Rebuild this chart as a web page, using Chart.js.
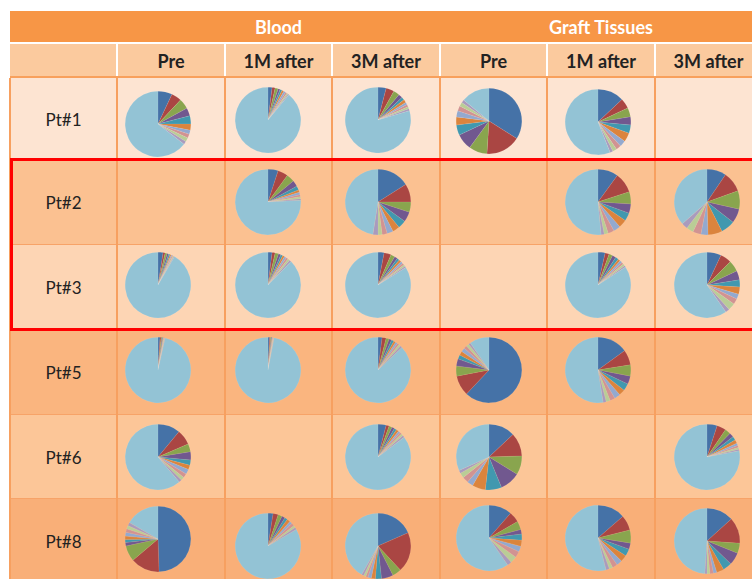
<!DOCTYPE html>
<html>
<head>
<meta charset="utf-8">
<script src="https://cdn.jsdelivr.net/npm/chart.js@4/dist/chart.umd.min.js"></script>
<style>
body{margin:0;background:#fff;width:752px;height:579px;overflow:hidden;position:relative;font-family:Lato,"Open Sans",sans-serif;}
.box{position:absolute;box-sizing:border-box;}
.txt{display:flex;align-items:center;justify-content:center;}
</style>
</head>
<body>
<div id="wrap"></div>
<script>
// table labels
const groups = ["Blood", "Graft Tissues"];
const timepoints = ["Pre", "1M after", "3M after", "Pre", "1M after", "3M after"];
const patients = ["Pt#1", "Pt#2", "Pt#3", "Pt#5", "Pt#6", "Pt#8"];
const clones = ["Clone 1","Clone 2","Clone 3","Clone 4","Clone 5","Clone 6","Clone 7","Clone 8","Clone 9","Clone 10","Others"];

// clone shares (%) per time point, null = no sample
const pt1 = [
[7,5,5,4,4,3,2,2,2,1.5,64.5],
[2,1.5,1.5,1,1,1,1,0.8,0.7,0.5,89],
[4,4,3,2,1.5,1.5,1.2,1.2,1,1,79.6],
[34,17,9,8,5,4,3,2.5,2,1.5,14],
[13,5,4.5,4,4,4.5,3,2.5,2,1.5,56],
null
];
const pt2 = [
null,
[5,5,4,3,2,1.2,1.2,1,1,0.8,75.8],
[16,9,5,5,4,3.5,3,2.5,2,2.5,47.5],
null,
[10,10,6,4.5,4,4,3.5,3,2,1.5,51.5],
[9.5,10,9,7,7,7,3.5,4,3.5,3,36.5]
];
const pt3 = [
[2.5,1,1,0.8,0.7,0.6,0.5,0.5,0.4,0.4,91.6],
[2,1.5,1.7,1.2,1,1,1,1,1,1,87.6],
[3,3.5,2,1.5,1.2,1.2,1.1,1,0.8,0.8,83.9],
null,
[3.5,2,1.8,1.8,1.5,1.2,1.2,1,1,0.8,84.2],
[7,5.5,5.5,4.5,3.5,3.5,2.5,2.8,3.5,2,59.7]
];
const pt5 = [
[1,0.5,0.4,0.3,0.3,0.2,0.2,0.2,0.2,0.2,96.5],
[0.8,0.4,0.3,0.3,0.2,0.2,0.2,0.2,0.2,0.2,97],
[2,2,1.5,1.3,1.2,1,1,1,1,1,87],
[62,10,5,3.5,2,2,2,1.5,1.4,1,9.6],
[15,7.5,5.5,4,3.5,3,3,2.5,2,1.5,52.5],
null
];
const pt6 = [
[11,7.5,4,4,2.5,2.2,2.5,2,1.7,1.4,61.2],
null,
[4,1.5,1.5,1.3,1.2,1.2,1,1,1,1,85.3],
[13,11.5,9.3,10,8,6.5,3,3,2.5,1.5,31.7],
null,
[5,4.5,2.8,2.2,1.8,1.8,1.2,1,0.9,0.8,78]
];
const pt8 = [
[49.5,14.3,7.8,1.7,1.4,1.7,1.9,1.7,1.7,1.6,16.7],
[2.5,2.5,2,1.6,1.4,1.6,1.4,1.4,1.1,1.1,83.4],
[18.4,19.7,4.4,5.8,3,2,1.7,1.1,1.1,1.1,41.7],
[11.4,5.3,4.2,2.2,3,3,2.8,3,3.3,2.2,59.6],
[13.6,7.5,6.4,3,3.6,3.3,2.8,2.5,1.7,1.7,53.9],
[13.3,12.8,5,6.1,4.4,3.6,1.7,1.7,1.4,1.1,48.9]
];
const allPts = [pt1, pt2, pt3, pt5, pt6, pt8];

const sliceColors = ["#4572A7","#AA4643","#89A54E","#71588F","#4198AF","#DB843D","#93A9CF","#D19392","#B9CD96","#A99BBD","#93C3D5"];

// layout
const colX = [117, 225, 332, 440, 547, 655, 762];
const rowY = [78, 160, 245, 330, 415, 499, 584];
const rowColor = ["#FDE4D2", "#FBC191", "#FDD5B4", "#FAB57F", "#FCC698", "#F9AF78"];
const pieX = [158, 268, 378, 489, 598, 707];
const pieY = [121, 202, 285, 370, 457, 541];
const pieYShift = [
[3,-1,-1,0,1,0],
[0,0,0,0,0,0],
[0,0,0,0,0,0],
[0,0,0,0,0,0],
[0,0,0,0,0,0],
[-2,5,5,-3,-3,0]
];
const pieD = 66;

const wrap = document.getElementById("wrap");
function box(x, y, w, h, bg, html, css){
  let d = document.createElement("div");
  d.className = "box txt";
  d.style.left = x + "px"; d.style.top = y + "px";
  d.style.width = w + "px"; d.style.height = h + "px";
  if(bg) d.style.background = bg;
  if(html) d.innerHTML = html;
  if(css) d.style.cssText += css;
  wrap.appendChild(d);
  return d;
}

// header rows
box(10, 11, 752, 31, "#F79646");
box(117, 11, 323, 31, null, groups[0], "color:#fff;font-weight:bold;font-size:18px;");
box(440, 11, 322, 31, null, groups[1], "color:#fff;font-weight:bold;font-size:18px;");
box(10, 44, 752, 33, "#FBCA9E");
for(let i=0;i<timepoints.length;i++){
  box(colX[i], 44, colX[i+1]-colX[i], 33, null, timepoints[i], "color:#222;font-weight:bold;font-size:18px;");
  box(colX[i]-1, 44, 2, 33, "#fff");
}
box(10, 76, 752, 2, "#F8A05C");

// data rows
for(let r=0;r<patients.length;r++){
  box(10, rowY[r], 752, rowY[r+1]-rowY[r], rowColor[r]);
  box(10, rowY[r], 107, rowY[r+1]-rowY[r], null, patients[r], "color:#222;font-size:17px;");
  box(10, rowY[r+1]-1, 752, 1.5, "#F7A368");
}
for(let i=0;i<6;i++){
  box(colX[i]-1, 78, 2, 501, "#F7A060");
}
box(9, 78, 1.5, 501, "#F7A060");

// pies
for(let r=0;r<allPts.length;r++){
  for(let c=0;c<6;c++){
    let vals = allPts[r][c];
    if(!vals) continue;
    let cy = pieY[r] + pieYShift[r][c];
    let holder = box(pieX[c]-pieD/2, cy-pieD/2, pieD, pieD);
    let cv = document.createElement("canvas");
    cv.width = pieD; cv.height = pieD;
    holder.appendChild(cv);
    new Chart(cv.getContext("2d"), {
      type: "pie",
      data: {
        labels: clones,
        datasets: [{
          data: vals,
          backgroundColor: sliceColors,
          borderColor: "rgba(255,255,255,0.3)",
          borderWidth: 0.25
        }]
      },
      options: {
        responsive: false,
        animation: false,
        events: [],
        layout: { padding: 0 },
        plugins: { legend: { display: false }, tooltip: { enabled: false } }
      }
    });
  }
}

// red highlight around Pt#2 and Pt#3
box(10, 158, 760, 173, null, "", "border:3px solid #FF0000;");
</script>
</body>
</html>
